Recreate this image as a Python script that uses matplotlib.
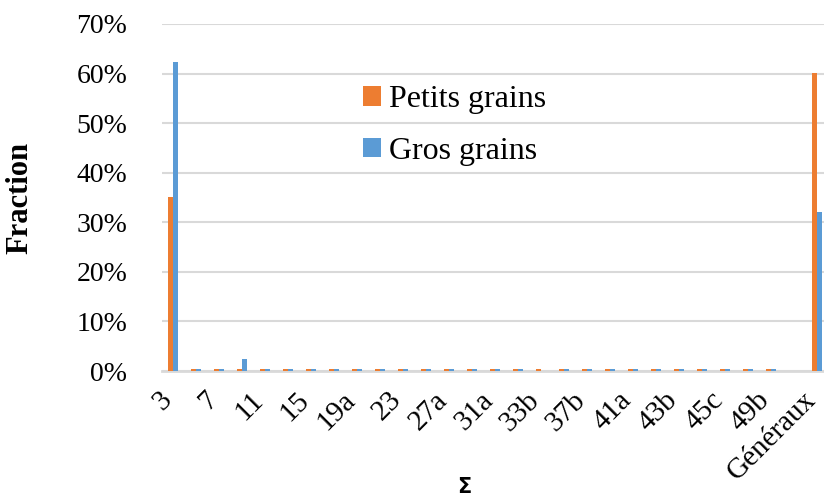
import numpy as np
import matplotlib.pyplot as plt
import matplotlib.transforms as mtransforms
from matplotlib.ticker import PercentFormatter

plt.rcParams['font.family'] = ['Liberation Serif', 'DejaVu Serif']

# CSL categories (only every other one is labelled on the axis)
categories = ['3', '5', '7', '9', '11', '13a', '15', '17a', '19a', '21a',
              '23', '25a', '27a', '29a', '31a', '33a', '33b', '35a', '37b',
              '39a', '41a', '43a', '43b', '45a', '45c', '47a', '49b', '49c',
              'Généraux']
petits = [0.350, 0.005, 0.005, 0.005, 0.005, 0.005, 0.005, 0.005, 0.005, 0.005,
          0.005, 0.005, 0.005, 0.005, 0.005, 0.005, 0.005, 0.005, 0.005, 0.005,
          0.005, 0.005, 0.005, 0.005, 0.005, 0.005, 0.005, 0.0, 0.602]
gros = [0.623, 0.005, 0.005, 0.024, 0.005, 0.005, 0.005, 0.005, 0.005, 0.005,
        0.005, 0.005, 0.005, 0.005, 0.005, 0.005, 0.0, 0.005, 0.005, 0.005,
        0.005, 0.005, 0.005, 0.005, 0.005, 0.005, 0.005, 0.0, 0.320]

orange = '#ED7D31'
blue = '#5B9BD5'

fig = plt.figure(figsize=(8.24, 4.99), dpi=100)
ax = fig.add_axes([0.1966, 0.2565, 0.8034, 0.6955])

x = np.arange(len(categories))
w = 0.23
ax.bar(x - w / 2, petits, w, color=orange, label='Petits grains', zorder=3)
ax.bar(x + w / 2, gros, w, color=blue, label='Gros grains', zorder=3)

ax.set_xlim(-0.48, 28.3)
ax.set_ylim(0, 0.7)
ax.set_yticks(np.arange(0, 0.71, 0.1))
ax.yaxis.set_major_formatter(PercentFormatter(1.0, decimals=0))
ax.grid(axis='y', color='#D9D9D9', linewidth=1.5, zorder=0)
ax.set_axisbelow(True)

for s in ['top', 'right', 'left']:
    ax.spines[s].set_visible(False)
ax.spines['bottom'].set_color('#D9D9D9')
ax.spines['bottom'].set_linewidth(2)
ax.spines['bottom'].set_zorder(2)

ax.tick_params(axis='y', length=0, pad=25, labelsize=20)
ax.tick_params(axis='x', length=0, pad=18, labelsize=21)

ax.set_xticks(x[::2])
ax.set_xticklabels(categories[::2], rotation=45, ha='right', va='center',
                   rotation_mode='anchor')
# nudge the rotated labels a little to the left so the last one fits
shift = mtransforms.ScaledTranslation(-4 / 72, 0, fig.dpi_scale_trans)
for lbl in ax.get_xticklabels():
    lbl.set_transform(lbl.get_transform() + shift)

ax.set_ylabel('Fraction', fontsize=22, fontweight='bold', labelpad=30)
fig.text(0.564, 0.024, 'Σ', fontsize=15, fontweight='bold',
         family='DejaVu Sans', ha='center', va='center')

ax.legend(loc='upper left', bbox_to_anchor=(0.285, 0.86), frameon=False,
          fontsize=23, handlelength=0.55, handleheight=0.55, handletextpad=0.25,
          labelspacing=0.7, borderaxespad=0)

fig.savefig('out.png', dpi=100)
